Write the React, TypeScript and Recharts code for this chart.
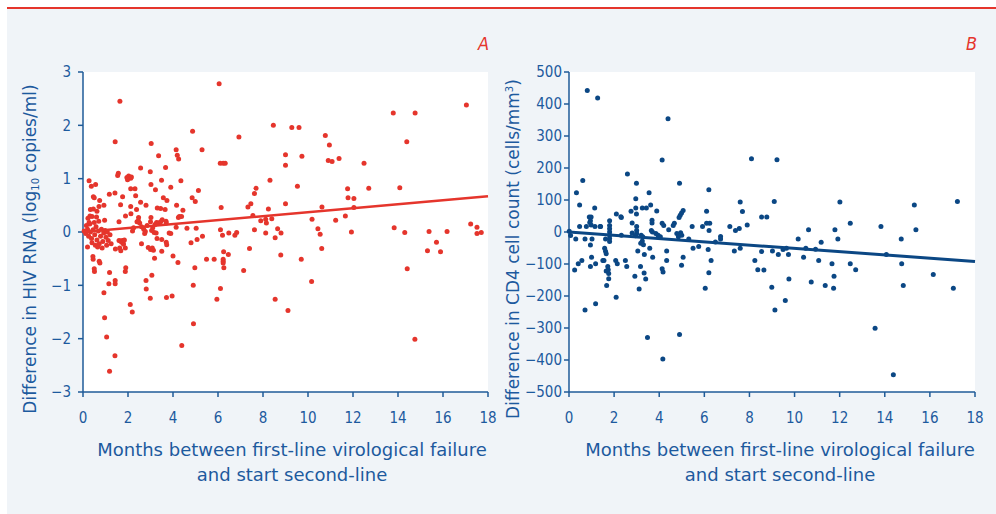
import React from "react";
import { ScatterChart, Scatter, XAxis, YAxis, CartesianGrid } from "recharts";

const MONTH_TICKS = [0, 2, 4, 6, 8, 10, 12, 14, 16, 18];
const HIV_TICKS = [-3, -2, -1, 0, 1, 2, 3];
const CD4_TICKS = [-500, -400, -300, -200, -100, 0, 100, 200, 300, 400, 500];

// [months, difference in log10 copies/ml]
const hivRna: [number, number][] = [
  [6.05, 2.78], [1.64, 2.45], [13.79, 2.23], [14.76, 2.23], [17.04, 2.38], [8.46, 2.0], [9.28, 1.96], [9.6, 1.96],
  [4.87, 1.89], [1.43, 1.69], [3.03, 1.66], [14.39, 1.69], [10.77, 1.81], [10.95, 1.63], [6.93, 1.78], [5.29, 1.54],
  [4.14, 1.54], [4.19, 1.44], [4.25, 1.37], [3.36, 1.43], [9.0, 1.45], [9.73, 1.42], [10.9, 1.34], [11.07, 1.32],
  [11.38, 1.38], [12.49, 1.29], [6.1, 1.29], [6.23, 1.29], [6.32, 1.29], [9.0, 1.25], [2.56, 1.2], [3.67, 1.21],
  [2.99, 1.13], [1.57, 1.1], [1.54, 1.06], [1.95, 1.02], [2.03, 1.05], [2.12, 1.01], [1.98, 0.98], [2.15, 1.03],
  [0.27, 0.96], [3.49, 0.97], [4.35, 0.96], [8.31, 0.97], [0.56, 0.89], [0.37, 0.86], [3.02, 0.89], [9.53, 0.86],
  [14.08, 0.83], [12.7, 0.82], [11.76, 0.81], [7.69, 0.82], [3.9, 0.84], [3.22, 0.79], [2.31, 0.81], [2.12, 0.81],
  [5.13, 0.78], [7.62, 0.72], [1.17, 0.71], [1.42, 0.73], [2.34, 0.68], [0.46, 0.66], [0.5, 0.64], [1.76, 0.66],
  [3.57, 0.64], [11.78, 0.64], [12.04, 0.63], [4.85, 0.64], [4.99, 0.57], [3.73, 0.59], [0.74, 0.59], [2.56, 0.56],
  [1.67, 0.51], [2.12, 0.48], [0.93, 0.5], [2.8, 0.5], [4.16, 0.5], [9.0, 0.53], [7.46, 0.53], [7.33, 0.47],
  [10.62, 0.47], [12.04, 0.46], [8.24, 0.43], [3.3, 0.45], [3.45, 0.44], [3.65, 0.42], [4.44, 0.41], [6.14, 0.46],
  [2.38, 0.42], [0.33, 0.42], [0.46, 0.43], [0.62, 0.39], [0.71, 0.48], [11.66, 0.3], [7.55, 0.31], [2.13, 0.34],
  [1.89, 0.3], [4.28, 0.29], [4.38, 0.29], [4.24, 0.27], [2.47, 0.27], [3.02, 0.27], [0.31, 0.3], [0.4, 0.29],
  [0.22, 0.26], [0.96, 0.22], [11.23, 0.22], [10.18, 0.24], [7.9, 0.21], [8.12, 0.24], [8.15, 0.17], [8.39, 0.25],
  [3.0, 0.19], [3.27, 0.18], [3.34, 0.17], [3.45, 0.19], [3.52, 0.23], [3.69, 0.2], [1.6, 0.19], [3.7, 0.17],
  [0.3, 0.15], [0.27, 0.18], [2.4, 0.19], [2.46, 0.21], [2.52, 0.17], [17.23, 0.15], [13.83, 0.08], [17.51, 0.09],
  [10.44, 0.06], [8.65, 0.06], [7.62, 0.04], [6.11, 0.04], [5.03, 0.07], [4.62, 0.07], [4.14, 0.09], [14.3, -0.01],
  [15.38, 0.01], [16.18, 0.01], [17.7, -0.01], [17.51, -0.03], [11.93, 0.0], [8.12, -0.02], [8.8, -0.02], [10.54, -0.04],
  [6.83, -0.01], [6.75, -0.06], [6.48, -0.02], [6.2, -0.06], [5.31, -0.08], [5.07, -0.14], [3.83, -0.02], [3.9, -0.03],
  [2.74, -0.03], [2.77, 0.01], [3.16, -0.01], [3.25, -0.02], [8.54, -0.11], [4.8, -0.2], [3.7, -0.19], [3.72, -0.24],
  [3.5, -0.14], [3.29, -0.12], [15.71, -0.19], [15.89, -0.37], [15.31, -0.35], [7.4, -0.31], [10.61, -0.31], [2.6, -0.22],
  [1.88, -0.3], [1.44, -0.32], [3.5, -0.36], [2.9, -0.29], [3.0, -0.33], [3.08, -0.3], [3.13, -0.34], [1.63, -0.3],
  [1.68, -0.35], [1.75, -0.16], [1.78, -0.2], [1.6, -0.16], [6.25, -0.37], [6.46, -0.42], [8.79, -0.43], [4.0, -0.45],
  [3.18, -0.49], [0.44, -0.46], [0.45, -0.51], [5.49, -0.51], [5.83, -0.51], [6.23, -0.51], [6.23, -0.55], [6.23, -0.58],
  [9.7, -0.51], [4.22, -0.57], [0.72, -0.55], [0.75, -0.58], [4.97, -0.67], [6.26, -0.67], [0.5, -0.69], [0.51, -0.74],
  [14.41, -0.69], [7.14, -0.72], [1.9, -0.67], [1.88, -0.74], [1.18, -0.76], [2.8, -0.91], [3.06, -0.81], [1.43, -0.91],
  [1.43, -0.97], [1.15, -0.97], [4.9, -1.0], [10.16, -0.93], [6.11, -1.06], [2.81, -1.07], [0.93, -1.14], [5.95, -1.26],
  [8.54, -1.26], [2.99, -1.24], [3.71, -1.23], [3.96, -1.2], [2.1, -1.36], [2.19, -1.5], [9.11, -1.47], [4.91, -1.72],
  [0.96, -1.61], [1.05, -1.97], [14.75, -2.01], [4.39, -2.13], [1.42, -2.32], [1.18, -2.61],
  [0.05, 0.02], [0.12, -0.03], [0.2, 0.05], [0.25, -0.08], [0.33, 0.0], [0.38, -0.12], [0.45, 0.04], [0.52, -0.05],
  [0.58, 0.1], [0.62, -0.15], [0.68, 0.02], [0.72, -0.22], [0.78, -0.08], [0.82, 0.05], [0.88, -0.18], [0.92, -0.02],
  [0.98, 0.03], [1.02, -0.1], [1.08, 0.0], [1.12, -0.16], [1.2, -0.05], [0.55, -0.25], [0.65, -0.28], [0.4, -0.2],
  [0.2, -0.28], [0.85, -0.3], [0.7, 0.2], [0.6, 0.28], [0.5, 0.18], [1.05, -0.25], [1.25, -0.22], [0.15, 0.12],
  [1.66, -0.17], [1.72, -0.19], [1.8, -0.23], [1.84, -0.15], [2.6, 0.1], [2.7, 0.05], [2.85, 0.12], [3.1, 0.08],
  [3.2, 0.14], [3.05, 0.03], [2.2, 0.02], [2.25, 0.08],
];

// [months, difference in cells/mm3]
const cd4Count: [number, number][] = [
  [0.81, 442], [1.27, 419], [4.39, 354], [4.13, 225], [8.09, 229], [9.22, 226], [0.61, 161], [2.59, 181],
  [0.33, 123], [2.99, 152], [4.9, 152], [6.2, 132], [2.96, 104], [3.55, 123], [0.47, 84], [1.14, 75],
  [3.62, 84], [3.25, 75], [3.43, 75], [2.96, 75], [7.59, 94], [9.1, 95], [12.01, 94], [15.31, 84],
  [17.22, 95], [3.89, 66], [2.75, 65], [6.1, 65], [7.69, 64], [5.06, 67], [4.99, 59], [4.93, 52],
  [4.88, 45], [2.99, 56], [2.1, 56], [2.32, 45], [0.9, 47], [0.98, 47], [8.54, 47], [8.77, 47],
  [12.47, 27], [4.67, 27], [4.62, 20], [3.68, 37], [3.68, 28], [4.13, 27], [4.2, 20], [2.8, 28],
  [1.8, 35], [6.1, 27], [6.24, 27], [0.92, 30], [0.98, 22], [1.8, 20], [1.8, 10], [1.8, 0],
  [1.8, -10], [1.8, -20], [1.8, -30], [0.47, 17], [0.77, 17], [1.15, 17], [1.4, 17], [5.46, 17],
  [5.92, 17], [7.13, 17], [7.55, 11], [7.38, 5], [7.9, 22], [13.83, 17], [11.79, 7], [10.62, 7],
  [15.38, 7], [6.21, 5], [4.42, 7], [3.0, 17], [3.0, 5], [3.0, -5], [2.8, -3], [2.95, -12],
  [3.2, -10], [3.27, -15], [0.01, 2], [0.07, -11], [0.3, -22], [0.71, -22], [1.02, -22], [2.32, -10],
  [5.31, -22], [10.16, -22], [11.92, -22], [14.73, -22], [6.72, -14], [6.72, -22], [6.49, -31], [1.62, -22],
  [3.25, -28], [3.18, -35], [3.3, -40], [0.95, -41], [5.75, -45], [5.5, -51], [7.59, -51], [6.17, -55],
  [9.64, -51], [10.5, -51], [10.93, -54], [11.18, -32], [9.49, -55], [3.58, -51], [1.58, -51], [1.62, -60],
  [1.65, -68], [3.05, -59], [4.33, -59], [3.34, -70], [7.33, -59], [8.54, -61], [9.02, -59], [9.28, -70],
  [9.73, -70], [14.07, -70], [10.4, -79], [1.0, -79], [3.71, -79], [5.06, -79], [0.57, -89], [0.41, -99],
  [1.5, -89], [1.55, -89], [2.07, -89], [2.14, -99], [2.5, -89], [4.33, -89], [6.3, -89], [8.24, -89],
  [11.07, -89], [11.66, -99], [12.47, -99], [14.75, -99], [1.18, -99], [0.95, -108], [2.56, -108], [3.17, -108],
  [4.99, -104], [1.72, -108], [1.74, -118], [1.65, -122], [1.76, -130], [1.76, -146], [4.13, -115], [4.17, -125],
  [0.25, -119], [8.37, -118], [8.64, -119], [12.71, -118], [3.33, -128], [6.2, -127], [16.15, -133], [11.75, -138],
  [2.92, -138], [3.4, -147], [9.75, -147], [1.67, -167], [10.74, -156], [11.36, -167], [14.82, -167], [6.04, -176],
  [3.11, -178], [8.99, -173], [11.73, -176], [17.04, -176], [2.09, -204], [9.59, -214], [1.18, -224], [0.71, -244],
  [9.13, -244], [13.57, -301], [4.9, -320], [3.48, -330], [4.16, -397], [14.38, -446],
  [4.78, -5], [4.85, -15], [4.95, -2], [5.0, -10], [3.65, 5], [3.7, 0], [3.85, -5], [3.95, -10],
  [4.05, -15], [0.95, 35], [1.38, 17], [2.3, 48],
];

// fitted regression lines, [months, value]
const hivFit: [number, number][] = [[0, 0.0], [18, 0.67]];
const cd4Fit: [number, number][] = [[0, 0], [18, -92]];

const AXIS = "#1f5b98";
const TEXT = "#1d5a9e";
const RED = "#e5352c";
const NAVY = "#0b4784";

const minus = (v: number) => String(v).replace("-", "\u2212");
const toXY = (rows: [number, number][]) => rows.map(([x, y]) => ({ x, y }));

function Dot(props: any) {
  const { cx, cy, fill } = props;
  if (cx == null || cy == null) return <g />;
  return <circle cx={cx} cy={cy} r={2.5} fill={fill} />;
}

const NoDot = () => <g />;

function Panel({ left, rightMargin, points, fit, color, lineW, domain, ticks, tickMargin }: any) {
  return (
    <div style={{ position: "absolute", left, top: 0 }}>
      <ScatterChart width={500} height={514} margin={{ top: 72, right: rightMargin, bottom: 92, left: 43 }}>
        <CartesianGrid fill="#ffffff" horizontal={false} vertical={false} />
        <XAxis
          type="number"
          dataKey="x"
          domain={[0, 18]}
          ticks={MONTH_TICKS}
          interval={0}
          height={30}
          tickSize={5}
          tickMargin={15}
          axisLine={{ stroke: AXIS, strokeWidth: 1.5 }}
          tickLine={{ stroke: AXIS, strokeWidth: 1.5 }}
          tick={{ fill: TEXT, fontSize: 15 }}
        />
        <YAxis
          type="number"
          dataKey="y"
          domain={domain}
          ticks={ticks}
          interval={0}
          width={40}
          tickSize={5}
          tickMargin={tickMargin}
          tickFormatter={minus}
          axisLine={{ stroke: AXIS, strokeWidth: 1.5 }}
          tickLine={{ stroke: AXIS, strokeWidth: 1.5 }}
          tick={{ fill: TEXT, fontSize: 15 }}
        />
        <Scatter data={toXY(points)} fill={color} shape={<Dot />} isAnimationActive={false} />
        <Scatter
          data={toXY(fit)}
          fill={color}
          shape={<NoDot />}
          line={{ stroke: color, strokeWidth: lineW }}
          isAnimationActive={false}
        />
      </ScatterChart>
    </div>
  );
}

const xTitle: React.CSSProperties = {
  position: "absolute", width: 440, top: 437, textAlign: "center",
  fontSize: 18, lineHeight: "25px", color: TEXT,
};

const yTitle: React.CSSProperties = {
  position: "absolute", width: 380, height: 20, top: 239, textAlign: "center",
  fontSize: 17, lineHeight: "20px", color: TEXT, whiteSpace: "nowrap",
  transform: "rotate(-90deg)",
};

const letter: React.CSSProperties = {
  position: "absolute", top: 34, fontSize: 18, lineHeight: "20px",
  color: RED, fontStyle: "italic",
};

export default function App() {
  return (
    <div style={{
      position: "absolute", left: 0, top: 0, width: 996, height: 514, background: "#fff",
      fontFamily: "'DejaVu Sans Condensed', 'DejaVu Sans', sans-serif", overflow: "hidden",
    }}>
      <div style={{ position: "absolute", left: 7, top: 7, width: 989, height: 2, background: RED }} />
      <div style={{ position: "absolute", left: 7, top: 9, width: 989, height: 505, background: "#f0f4f8" }} />

      <Panel left={0} rightMargin={12} points={hivRna} fit={hivFit} color={RED} lineW={2.5}
        domain={[-3, 3]} ticks={HIV_TICKS} tickMargin={7} />
      <Panel left={486} rightMargin={11} points={cd4Count} fit={cd4Fit} color={NAVY} lineW={3}
        domain={[-500, 500]} ticks={CD4_TICKS} tickMargin={2} />

      <div style={{ ...letter, left: 478 }}>A</div>
      <div style={{ ...letter, left: 966 }}>B</div>

      <div style={{ ...yTitle, left: 30 - 190, fontFamily: "'DejaVu Sans', sans-serif" }}>
        Difference in HIV RNA (log<sub style={{ fontSize: 10, verticalAlign: "-3px", lineHeight: 0 }}>10</sub> copies/ml)
      </div>
      <div style={{ ...yTitle, left: 513 - 190, fontFamily: "'DejaVu Sans', sans-serif" }}>
        Difference in CD4 cell count (cells/mm<sup style={{ fontSize: 10, verticalAlign: "6px", lineHeight: 0 }}>3</sup>)
      </div>

      <div style={{ ...xTitle, left: 72, fontFamily: "'DejaVu Sans', sans-serif" }}>
        Months between first-line virological failure<br />and start second-line
      </div>
      <div style={{ ...xTitle, left: 560, fontFamily: "'DejaVu Sans', sans-serif" }}>
        Months between first-line virological failure<br />and start second-line
      </div>
    </div>
  );
}
